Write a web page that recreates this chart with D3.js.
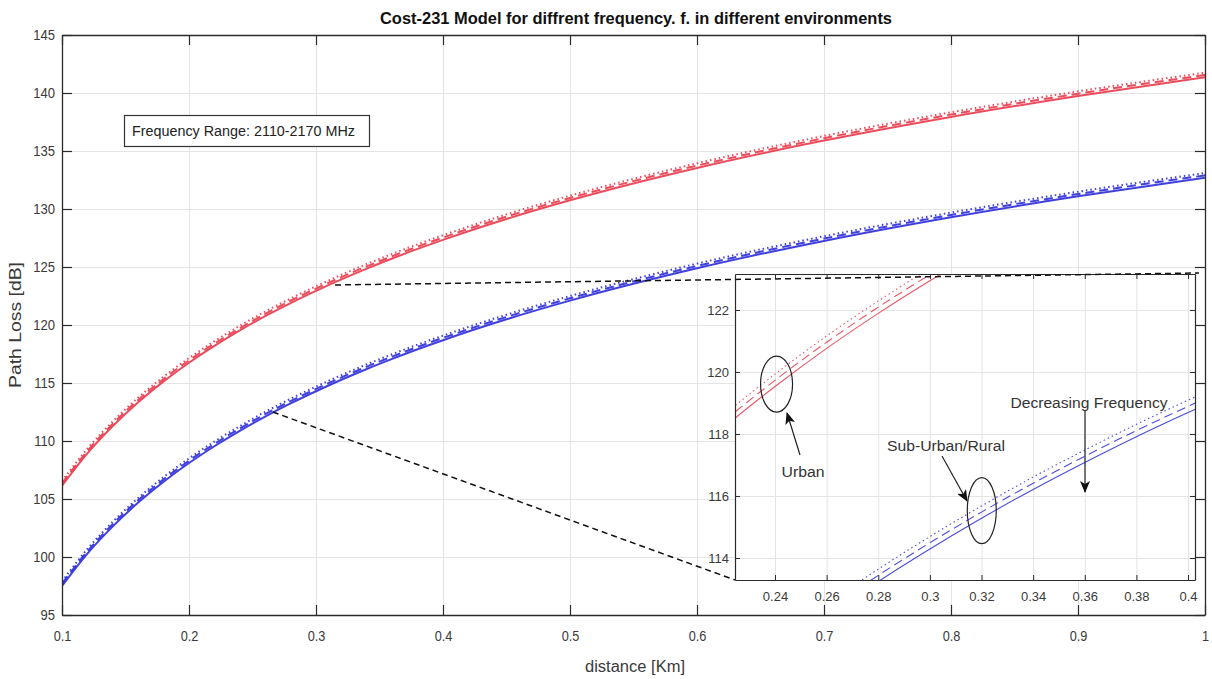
<!DOCTYPE html>
<html>
<head>
<meta charset="utf-8">
<script src="https://cdn.jsdelivr.net/npm/d3@7"></script>
<style>
  body { margin: 0; background: #fff; }
  svg text { font-family: "Liberation Sans", Arial, Helvetica, sans-serif; }
</style>
</head>
<body>
<svg id="chart" width="1212" height="679"></svg>
<script>
// ---- data: path loss [dB] versus distance [km] ----
const distance = [0.10, 0.12, 0.14, 0.16, 0.18, 0.20, 0.22, 0.24, 0.26, 0.28, 0.30, 0.32,
                  0.34, 0.36, 0.38, 0.40, 0.45, 0.50, 0.60, 0.70, 0.80, 0.90, 1.00];

// Urban environment
const urban2110 = [106.15, 108.94, 111.29, 113.34, 115.14, 116.75, 118.20, 119.53, 120.76, 121.89, 122.94, 123.93,
                   124.86, 125.73, 126.56, 127.34, 129.14, 130.75, 133.54, 135.90, 137.94, 139.74, 141.35];
const urban2140 = [106.35, 109.14, 111.49, 113.54, 115.34, 116.95, 118.40, 119.73, 120.96, 122.09, 123.14, 124.13,
                   125.06, 125.93, 126.76, 127.54, 129.34, 130.95, 133.74, 136.10, 138.14, 139.94, 141.55];
const urban2170 = [106.55, 109.34, 111.69, 113.74, 115.54, 117.15, 118.60, 119.93, 121.16, 122.29, 123.34, 124.33,
                   125.26, 126.13, 126.96, 127.74, 129.54, 131.15, 133.94, 136.30, 138.34, 140.14, 141.75];

// Sub-urban / rural environment
const suburban2110 = [97.50, 100.29, 102.64, 104.69, 106.49, 108.10, 109.55, 110.88, 112.11, 113.24, 114.29, 115.28,
                      116.21, 117.08, 117.91, 118.69, 120.49, 122.10, 124.89, 127.25, 129.29, 131.09, 132.70];
const suburban2140 = [97.70, 100.49, 102.84, 104.89, 106.69, 108.30, 109.75, 111.08, 112.31, 113.44, 114.49, 115.48,
                      116.41, 117.28, 118.11, 118.89, 120.69, 122.30, 125.09, 127.45, 129.49, 131.29, 132.90];
const suburban2170 = [97.90, 100.69, 103.04, 105.09, 106.89, 108.50, 109.95, 111.28, 112.51, 113.64, 114.69, 115.68,
                      116.61, 117.48, 118.31, 119.09, 120.89, 122.50, 125.29, 127.65, 129.69, 131.49, 133.10];

// axis ticks
const xTicks = [0.1, 0.2, 0.3, 0.4, 0.5, 0.6, 0.7, 0.8, 0.9, 1];
const yTicks = [95, 100, 105, 110, 115, 120, 125, 130, 135, 140, 145];
const insetXTicks = [0.24, 0.26, 0.28, 0.30, 0.32, 0.34, 0.36, 0.38, 0.40];
const insetYTicks = [114, 116, 118, 120, 122];

// zoomed window (data units of the main axes) and inset limits
const zoomWindow = { x0: 0.266, y0: 112.5, x1: 0.315, y1: 123.45 };
const insetXDomain = [0.2245, 0.4027];
const insetYDomain = [113.29, 123.16];

// text
const titleText = "Cost-231 Model for diffrent frequency. f. in different environments";
const xLabelText = "distance [Km]";
const yLabelText = "Path Loss [dB]";
const noteText = "Frequency Range: 2110-2170 MHz";

// ---- series styling ----
const RED = "#e8384a", BLUE = "#2b2bd8";
const series = [
  { values: urban2110,    color: RED,  dash: null },
  { values: urban2140,    color: RED,  dash: "long" },
  { values: urban2170,    color: RED,  dash: "dot" },
  { values: suburban2110, color: BLUE, dash: null },
  { values: suburban2140, color: BLUE, dash: "long" },
  { values: suburban2170, color: BLUE, dash: "dot" }
];
const dashArray = { long: "9,5", dot: "1.5,3" };

const svg = d3.select("#chart");
svg.append("rect").attr("width", 1212).attr("height", 679).attr("fill", "#fff");

// ---- main axes ----
const M = { left: 62, right: 1205, top: 35, bottom: 615 };
const x = d3.scaleLinear().domain([0.1, 1]).range([M.left, M.right]);
const y = d3.scaleLinear().domain([95, 145]).range([M.bottom, M.top]);

const defs = svg.append("defs");
defs.append("clipPath").attr("id", "mainClip")
  .append("rect").attr("x", M.left).attr("y", M.top)
  .attr("width", M.right - M.left).attr("height", M.bottom - M.top);

// grid
const grid = svg.append("g").attr("class", "grid");
grid.append("g").attr("transform", `translate(0,${M.bottom})`)
  .call(d3.axisBottom(x).tickValues(xTicks).tickSize(-(M.bottom - M.top)).tickFormat(""));
grid.append("g").attr("transform", `translate(${M.left},0)`)
  .call(d3.axisLeft(y).tickValues(yTicks).tickSize(-(M.right - M.left)).tickFormat(""));
grid.selectAll("line").attr("stroke", "#e4e4e4").attr("stroke-width", 1);
grid.selectAll(".domain").remove();

// curves
const line = d3.line()
  .x((d, i) => x(distance[i]))
  .y(d => y(d))
  .curve(d3.curveMonotoneX);

svg.append("g").attr("clip-path", "url(#mainClip)")
  .selectAll("path").data(series).join("path")
  .attr("d", s => line(s.values))
  .attr("fill", "none")
  .attr("stroke", s => s.color)
  .attr("stroke-width", 2)
  .attr("stroke-dasharray", s => s.dash ? dashArray[s.dash] : null)
  .attr("opacity", 0.9);

// axes with inward ticks on all four sides
const fmt = d => d3.format("~g")(d);
function styleAxis(g) {
  g.select(".domain").attr("stroke", "#2a2a2a").attr("stroke-width", 1.3);
  g.selectAll(".tick line").attr("stroke", "#2a2a2a").attr("stroke-width", 1.2);
  g.selectAll("text").attr("fill", "#3a3a3a").style("font-size", "15px");
}
const axB = svg.append("g").attr("transform", `translate(0,${M.bottom})`)
  .call(d3.axisBottom(x).tickValues(xTicks).tickSize(-10).tickSizeOuter(0).tickPadding(15).tickFormat(fmt));
styleAxis(axB);
axB.selectAll("text").attr("transform", "scale(0.85,1)");
const axL = svg.append("g").attr("transform", `translate(${M.left},0)`)
  .call(d3.axisLeft(y).tickValues(yTicks).tickSize(-10).tickSizeOuter(0).tickPadding(8).tickFormat(fmt));
styleAxis(axL);
axL.selectAll("text").attr("transform", "scale(0.87,1)");
const axT = svg.append("g").attr("transform", `translate(0,${M.top})`)
  .call(d3.axisTop(x).tickValues(xTicks).tickSize(-10).tickSizeOuter(0).tickFormat(""));
styleAxis(axT);
const axR = svg.append("g").attr("transform", `translate(${M.right},0)`)
  .call(d3.axisRight(y).tickValues(yTicks).tickSize(-10).tickSizeOuter(0).tickFormat(""));
styleAxis(axR);

// title and labels
svg.append("text").attr("x", 636).attr("y", 24).attr("text-anchor", "middle")
  .style("font-size", "16px").style("font-weight", "bold").attr("fill", "#111")
  .attr("textLength", 512).attr("lengthAdjust", "spacingAndGlyphs").text(titleText);
svg.append("text").attr("x", 635).attr("y", 672).attr("text-anchor", "middle")
  .style("font-size", "16px").attr("fill", "#3a3a3a")
  .attr("textLength", 100).attr("lengthAdjust", "spacingAndGlyphs").text(xLabelText);
svg.append("text").attr("transform", "translate(21,325) rotate(-90)").attr("text-anchor", "middle")
  .style("font-size", "16px").attr("fill", "#3a3a3a")
  .attr("textLength", 126).attr("lengthAdjust", "spacingAndGlyphs").text(yLabelText);

// frequency note box
svg.append("rect").attr("x", 124.5).attr("y", 115.5).attr("width", 245).attr("height", 31)
  .attr("fill", "#fff").attr("stroke", "#333").attr("stroke-width", 1.2);
svg.append("text").attr("x", 243.5).attr("y", 136).attr("text-anchor", "middle")
  .style("font-size", "14px").attr("fill", "#222")
  .attr("textLength", 223).attr("lengthAdjust", "spacingAndGlyphs").text(noteText);

// ---- inset (zoomed view) ----
const I = { left: 735, right: 1195, top: 274, bottom: 580 };
const xi = d3.scaleLinear().domain(insetXDomain).range([I.left, I.right]);
const yi = d3.scaleLinear().domain(insetYDomain).range([I.bottom, I.top]);

defs.append("clipPath").attr("id", "insetClip")
  .append("rect").attr("x", I.left).attr("y", I.top)
  .attr("width", I.right - I.left).attr("height", I.bottom - I.top);

const inset = svg.append("g");
inset.append("rect").attr("x", I.left).attr("y", I.top)
  .attr("width", I.right - I.left).attr("height", I.bottom - I.top).attr("fill", "#fff");

const igrid = inset.append("g");
igrid.append("g").attr("transform", `translate(0,${I.bottom})`)
  .call(d3.axisBottom(xi).tickValues(insetXTicks).tickSize(-(I.bottom - I.top)).tickFormat(""));
igrid.append("g").attr("transform", `translate(${I.left},0)`)
  .call(d3.axisLeft(yi).tickValues(insetYTicks).tickSize(-(I.right - I.left)).tickFormat(""));
igrid.selectAll("line").attr("stroke", "#e4e4e4").attr("stroke-width", 1);
igrid.selectAll(".domain").remove();

const iline = d3.line()
  .x((d, i) => xi(distance[i]))
  .y(d => yi(d))
  .curve(d3.curveMonotoneX);

inset.append("g").attr("clip-path", "url(#insetClip)")
  .selectAll("path").data(series).join("path")
  .attr("d", s => iline(s.values))
  .attr("fill", "none")
  .attr("stroke", s => s.color)
  .attr("stroke-width", 1.1)
  .attr("stroke-dasharray", s => s.dash ? dashArray[s.dash] : null)
  .attr("opacity", 0.85);

function styleInsetAxis(g) {
  g.select(".domain").attr("stroke", "#2a2a2a").attr("stroke-width", 1.2);
  g.selectAll(".tick line").attr("stroke", "#2a2a2a").attr("stroke-width", 1);
  g.selectAll("text").attr("fill", "#3a3a3a").style("font-size", "13px");
}
const iB = inset.append("g").attr("transform", `translate(0,${I.bottom})`)
  .call(d3.axisBottom(xi).tickValues(insetXTicks).tickSize(-5).tickSizeOuter(0).tickPadding(12).tickFormat(fmt));
styleInsetAxis(iB);
const iL = inset.append("g").attr("transform", `translate(${I.left},0)`)
  .call(d3.axisLeft(yi).tickValues(insetYTicks).tickSize(-5).tickSizeOuter(0).tickPadding(6).tickFormat(fmt));
styleInsetAxis(iL);
const iT = inset.append("g").attr("transform", `translate(0,${I.top})`)
  .call(d3.axisTop(xi).tickValues(insetXTicks).tickSize(-5).tickSizeOuter(0).tickFormat(""));
styleInsetAxis(iT);
const iR = inset.append("g").attr("transform", `translate(${I.right},0)`)
  .call(d3.axisRight(yi).tickValues(insetYTicks).tickSize(-5).tickSizeOuter(0).tickFormat(""));
styleInsetAxis(iR);

// connectors from the zoomed window to the inset
const conn = svg.append("g").attr("stroke", "#111").attr("stroke-width", 1.5)
  .attr("stroke-dasharray", "6,4").attr("fill", "none");
conn.append("line")
  .attr("x1", x(zoomWindow.x1)).attr("y1", y(zoomWindow.y1))
  .attr("x2", I.right + 4).attr("y2", I.top - 1);
conn.append("line")
  .attr("x1", x(zoomWindow.x0)).attr("y1", y(zoomWindow.y0))
  .attr("x2", I.left).attr("y2", I.bottom);

// annotations inside the inset
defs.append("marker").attr("id", "head")
  .attr("viewBox", "0 0 12 10").attr("refX", 11).attr("refY", 5)
  .attr("markerWidth", 12).attr("markerHeight", 10).attr("markerUnits", "userSpaceOnUse")
  .attr("orient", "auto")
  .append("path").attr("d", "M0,0 L12,5 L0,10 L3,5 Z").attr("fill", "#111");

const ann = svg.append("g");
ann.append("ellipse").attr("cx", xi(0.2406)).attr("cy", yi(119.61))
  .attr("rx", 16).attr("ry", 28).attr("fill", "none").attr("stroke", "#222").attr("stroke-width", 1.2);
ann.append("ellipse").attr("cx", xi(0.3201)).attr("cy", yi(115.53))
  .attr("rx", 14.5).attr("ry", 33).attr("fill", "none").attr("stroke", "#222").attr("stroke-width", 1.2);

const arrows = [
  { x1: 800, y1: 455, x2: 787, y2: 413 },
  { x1: 942, y1: 456, x2: 967, y2: 501 },
  { x1: 1085, y1: 410, x2: 1085, y2: 492 }
];
ann.selectAll("line.arrow").data(arrows).join("line").attr("class", "arrow")
  .attr("x1", d => d.x1).attr("y1", d => d.y1).attr("x2", d => d.x2).attr("y2", d => d.y2)
  .attr("stroke", "#222").attr("stroke-width", 1.2).attr("marker-end", "url(#head)");

const labels = [
  { text: "Urban", x: 803, y: 477, w: 43 },
  { text: "Sub-Urban/Rural", x: 946, y: 451, w: 118 },
  { text: "Decreasing Frequency", x: 1089, y: 408, w: 157 }
];
ann.selectAll("text.lab").data(labels).join("text").attr("class", "lab")
  .attr("x", d => d.x).attr("y", d => d.y).attr("text-anchor", "middle")
  .style("font-size", "14px").attr("fill", "#333")
  .attr("textLength", d => d.w).attr("lengthAdjust", "spacingAndGlyphs")
  .text(d => d.text);
</script>
</body>
</html>
